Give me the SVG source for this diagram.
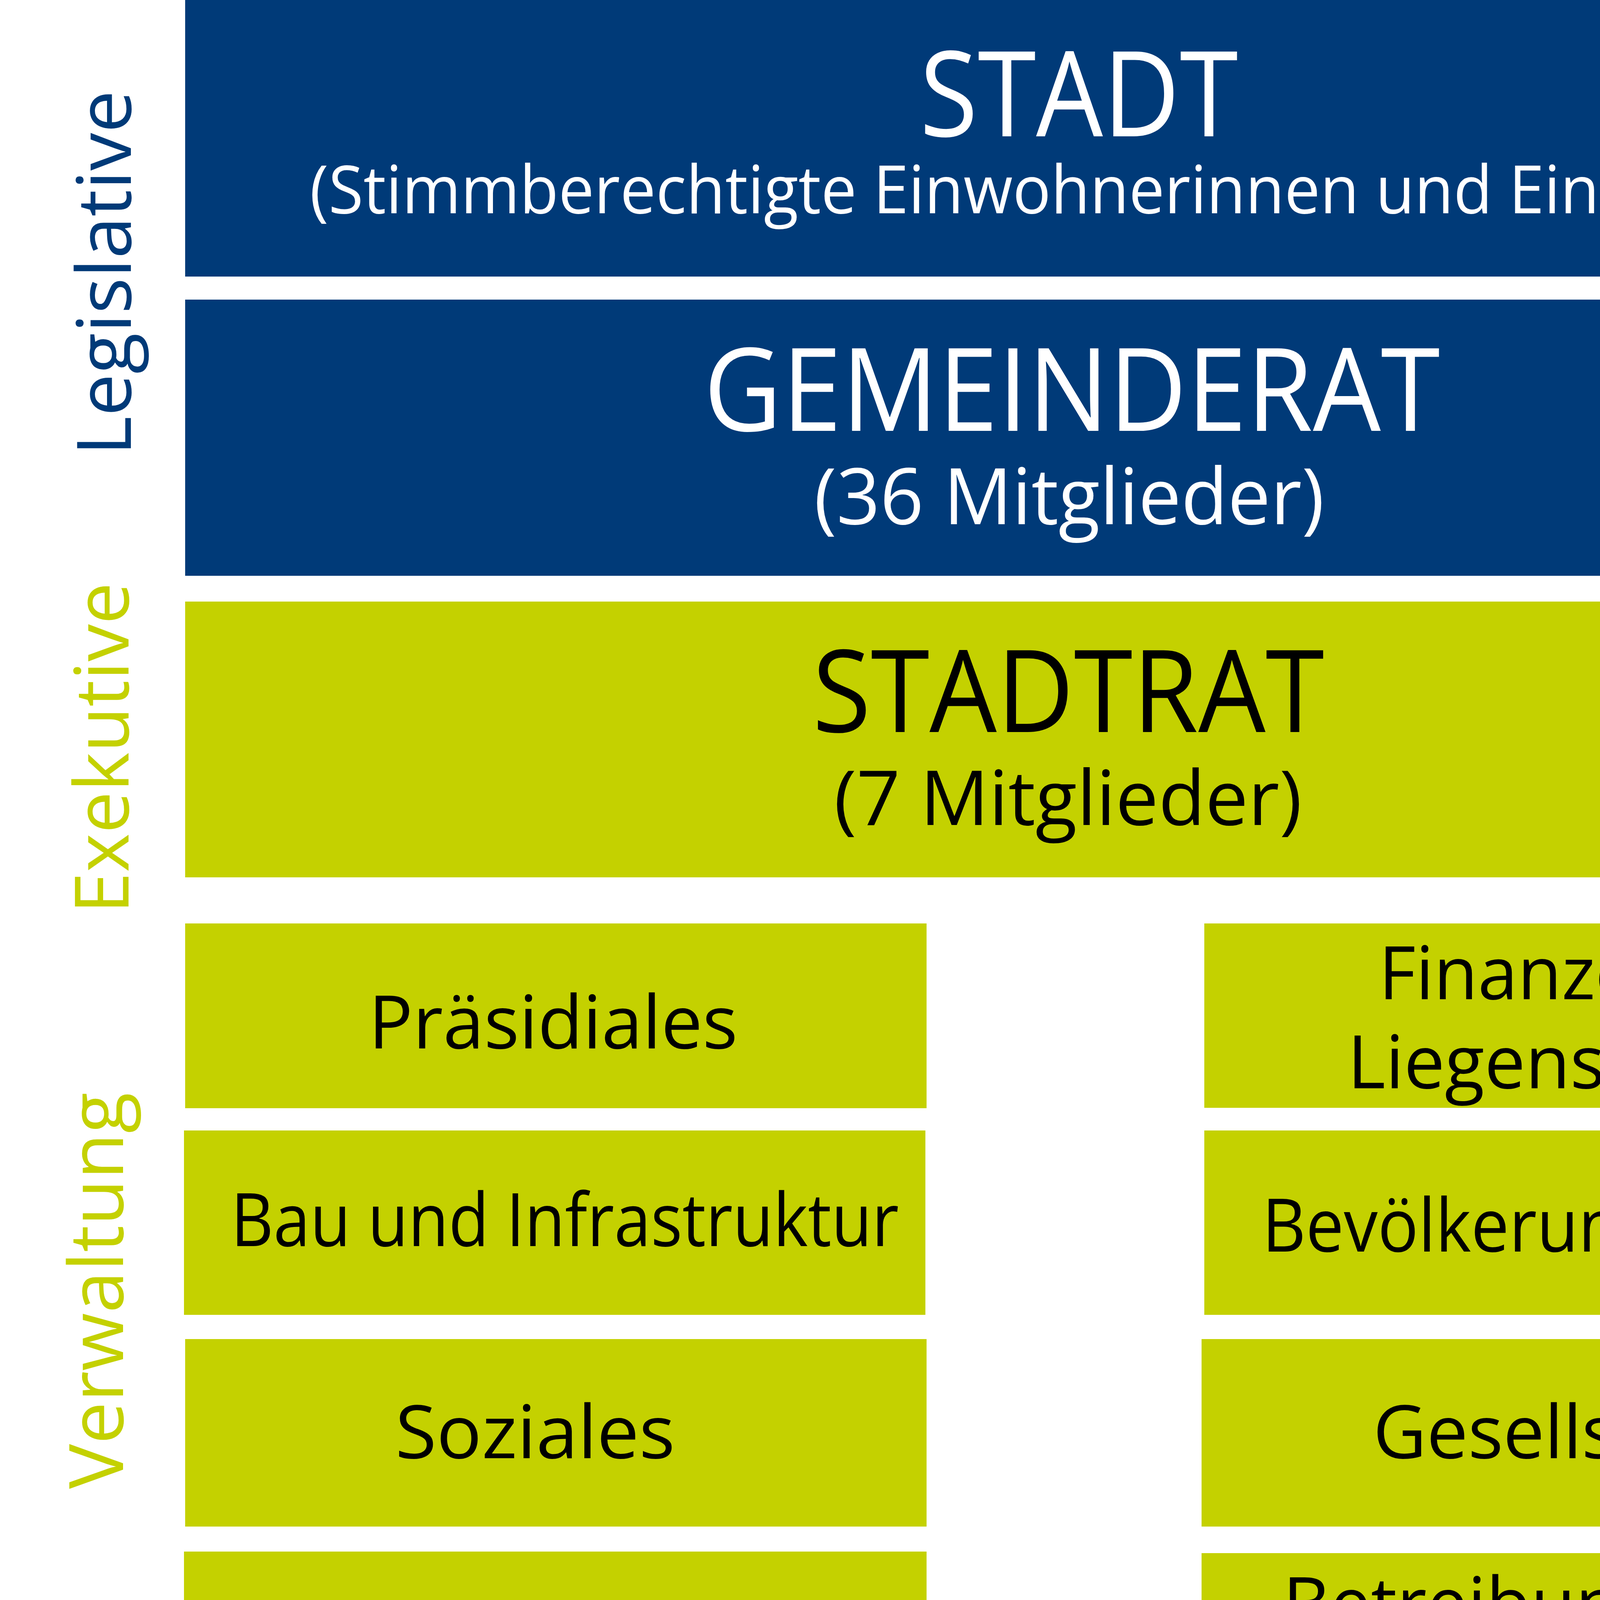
<svg xmlns="http://www.w3.org/2000/svg" width="5000" height="7000" viewBox="0 0 5000 7000">
<style>
text{font-family:"Open Sans","Noto Sans","DejaVu Sans",sans-serif;text-anchor:middle}
.blue{fill:#003A78}
.lime{fill:#C4D100}
.pale{fill:#A8BED5}
.w{fill:#FFFFFF}
.k{fill:#000000}
.side{font-size:193px}
.dept{font-size:188px}
.small{font-size:106px}
</style>
<rect width="5000" height="7000" fill="#FFFFFF"/>
<g id="labels">
<text class="side blue" transform="translate(335,699) rotate(-90)" textLength="935" lengthAdjust="spacingAndGlyphs">Legislative</text>
<text class="side lime" transform="translate(329,1915) rotate(-90)" textLength="848" lengthAdjust="spacingAndGlyphs">Exekutive</text>
<text class="side lime" transform="translate(315,3304) rotate(-90)" textLength="1015" lengthAdjust="spacingAndGlyphs">Verwaltung</text>
<text class="side pale" transform="translate(288,5495) rotate(-90)" textLength="892" lengthAdjust="spacingAndGlyphs">Judikative</text>
</g>
<g id="stadt">
<rect class="blue" x="474" y="0" width="4520" height="708"/>
<text class="w" x="2762" y="349" font-size="304" textLength="815" lengthAdjust="spacingAndGlyphs">STADT</text>
<text class="w" x="2758" y="546" font-size="170" textLength="3930" lengthAdjust="spacingAndGlyphs">(Stimmberechtigte Einwohnerinnen und Einwohner)</text>
</g>
<g id="gemeinderat">
<rect class="blue" x="474" y="767" width="4520" height="707"/>
<text class="w" x="2744" y="1103" font-size="296" textLength="1885" lengthAdjust="spacingAndGlyphs">GEMEINDERAT</text>
<text class="w" x="2737" y="1342" font-size="199" textLength="1306" lengthAdjust="spacingAndGlyphs">(36 Mitglieder)</text>
</g>
<g id="stadtrat">
<rect class="lime" x="474" y="1540" width="4519" height="706"/>
<text class="k" x="2735" y="1874" font-size="293" textLength="1310" lengthAdjust="spacingAndGlyphs">STADTRAT</text>
<text class="k" x="2734" y="2112" font-size="195" textLength="1198" lengthAdjust="spacingAndGlyphs">(7 Mitglieder)</text>
</g>
<g id="praesidiales">
<rect class="lime" x="474" y="2364" width="1898" height="473"/>
<text class="k dept" x="1416" y="2684" textLength="945" lengthAdjust="spacingAndGlyphs">Präsidiales</text>
</g>
<g id="finanzen">
<rect class="lime" x="3083" y="2364" width="1911" height="472"/>
<text class="k dept" x="4107" y="2558" textLength="1155" lengthAdjust="spacingAndGlyphs">Finanzen und</text>
<text class="k dept" x="4107" y="2786" textLength="1315" lengthAdjust="spacingAndGlyphs">Liegenschaften</text>
</g>
<g id="bau">
<rect class="lime" x="471" y="2894" width="1898" height="472"/>
<text class="k dept" x="1446" y="3190" textLength="1710" lengthAdjust="spacingAndGlyphs">Bau und Infrastruktur</text>
</g>
<g id="bevoelkerung">
<rect class="lime" x="3083" y="2894" width="1904" height="472"/>
<text class="k dept" x="4075" y="3204" textLength="1688" lengthAdjust="spacingAndGlyphs">Bevölkerungsdienste</text>
</g>
<g id="soziales">
<rect class="lime" x="474" y="3428" width="1898" height="480"/>
<text class="k dept" x="1370" y="3733" textLength="716" lengthAdjust="spacingAndGlyphs">Soziales</text>
</g>
<g id="gesellschaft">
<rect class="lime" x="3076" y="3428" width="1902" height="480"/>
<text class="k dept" x="4048" y="3733" textLength="1066" lengthAdjust="spacingAndGlyphs">Gesellschaft</text>
</g>
<g id="schule">
<rect class="lime" x="471" y="3972" width="1901" height="472"/>
<text class="k dept" x="1387" y="4268" textLength="578" lengthAdjust="spacingAndGlyphs">Schule</text>
</g>
<g id="betreibung">
<rect class="lime" x="3076" y="3976" width="1902" height="470"/>
<text class="k dept" x="4037" y="4173" textLength="1506" lengthAdjust="spacingAndGlyphs">Betreibungs- und</text>
<text class="k dept" x="4037" y="4401" textLength="1570" lengthAdjust="spacingAndGlyphs">Stadtammannamt</text>
</g>
<g id="alterszentrum">
<rect class="lime" x="474" y="4521" width="1901" height="471"/>
<text class="k dept" x="1424" y="4714" textLength="1214" lengthAdjust="spacingAndGlyphs">Alterszentrum</text>
<text class="k dept" x="1427" y="4944" textLength="806" lengthAdjust="spacingAndGlyphs">Gibeleich</text>
</g>
<g id="kesb">
<rect class="lime" x="3076" y="4521" width="1902" height="471"/>
<text class="k dept" x="4024" y="4684" textLength="432" lengthAdjust="spacingAndGlyphs">KESB</text>
<text class="k small" x="4022" y="4821" textLength="1416" lengthAdjust="spacingAndGlyphs">Kindes- und Erwachsenen-</text>
<text class="k small" x="4021" y="4964" textLength="785" lengthAdjust="spacingAndGlyphs">schutzbehörde</text>
</g>
<g id="friedensrichteramt">
<rect class="pale" x="451" y="5112" width="4527" height="713"/>
<text class="k" x="2784" y="5535" font-size="289" textLength="2985" lengthAdjust="spacingAndGlyphs">FRIEDENSRICHTERAMT</text>
</g>
<g id="connectors"></g>
</svg>
